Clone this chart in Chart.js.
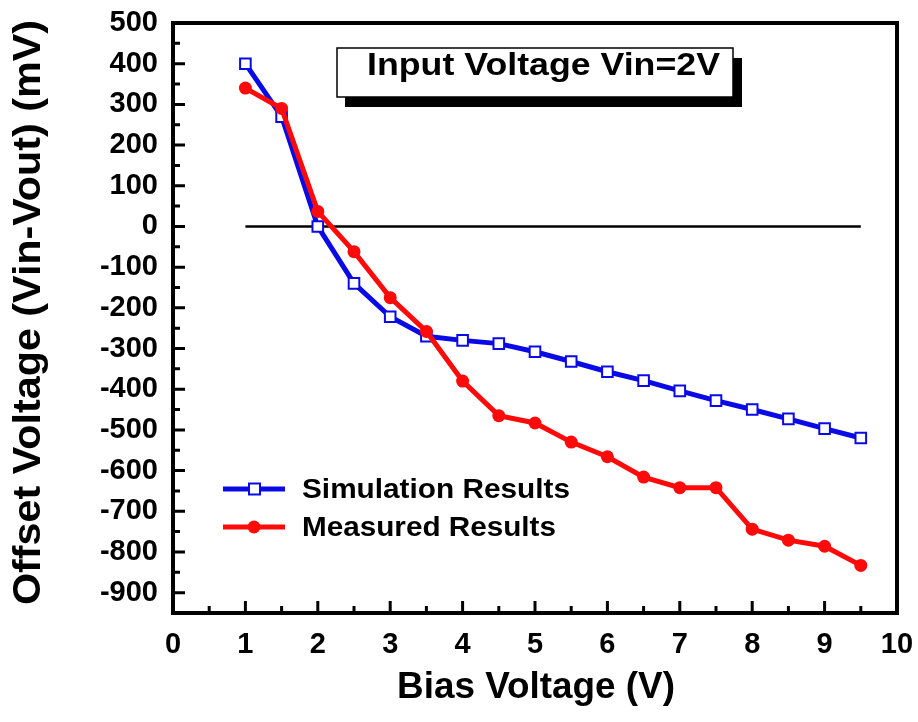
<!DOCTYPE html>
<html lang="en">
<head>
    <meta charset="UTF-8">
    <title>Offset Voltage vs Bias Voltage</title>
    <script src="https://cdn.jsdelivr.net/npm/chart.js"></script>
    <style>
        html, body { margin: 0; padding: 0; background: #fff; }
        #wrap { width: 918px; height: 722px; }
    </style>
</head>
<body>
    <div id="wrap"><canvas id="chart" width="918" height="722"></canvas></div>

    <script>
        // values
        const biasVoltage = [1, 1.5, 2, 2.5, 3, 3.5, 4, 4.5, 5, 5.5, 6, 6.5, 7, 7.5, 8, 8.5, 9, 9.5];
        const simulated = [400, 270, 0, -140, -222, -270, -280, -288, -308, -332, -357, -379, -404, -428, -450, -473, -497, -520];
        const measured = [340, 290, 37, -62, -175, -258, -380, -465, -483, -530, -566, -616, -642, -642, -744, -771, -786, -833];
        const zeroLineX = [1, 9.5];
        const xTicks = [0, 1, 2, 3, 4, 5, 6, 7, 8, 9, 10];
        const yTicks = [500, 400, 300, 200, 100, 0, -100, -200, -300, -400, -500, -600, -700, -800, -900];

        const FONT = '"Liberation Sans", Arial, sans-serif';
        const BLUE = '#0a0ae6';
        const RED = '#ff0a0a';

        const toPoints = (xs, ys) => xs.map((x, i) => ({ x: x, y: ys[i] }));

        // draws text stretched horizontally so it spans a given width
        function fitText(ctx, text, x, y, width) {
            const w = ctx.measureText(text).width;
            ctx.save();
            ctx.translate(x, y);
            ctx.scale(width / w, 1);
            ctx.fillText(text, 0, 0);
            ctx.restore();
        }

        // frame, inward ticks, titles, legend, label box
        const decorations = {
            id: 'decorations',
            afterDraw(chart) {
                const ctx = chart.ctx;
                const a = chart.chartArea;
                const xs = chart.scales.x;
                const ys = chart.scales.y;
                ctx.save();

                // minor/major ticks
                ctx.strokeStyle = '#000';
                ctx.lineWidth = 3;
                ctx.beginPath();
                for (let v = -900; v <= 450; v += 50) {
                    const py = ys.getPixelForValue(v);
                    const len = v % 100 === 0 ? 12 : 7;
                    ctx.moveTo(a.left, py);
                    ctx.lineTo(a.left + len, py);
                }
                for (let v = 0.5; v < 10; v += 0.5) {
                    const px = xs.getPixelForValue(v);
                    const len = Number.isInteger(v) ? 12 : 7;
                    ctx.moveTo(px, a.bottom);
                    ctx.lineTo(px, a.bottom - len);
                }
                ctx.stroke();

                // frame
                ctx.lineWidth = 4;
                ctx.strokeRect(a.left, a.top, a.right - a.left, a.bottom - a.top);

                // axis titles
                ctx.fillStyle = '#000';
                ctx.font = 'bold 36px ' + FONT;
                ctx.textAlign = 'left';
                ctx.textBaseline = 'middle';
                fitText(ctx, 'Bias Voltage (V)', 397, 688, 278);
                ctx.save();
                ctx.translate(30, 605);
                ctx.rotate(-Math.PI / 2);
                ctx.font = 'bold 38px ' + FONT;
                fitText(ctx, 'Offset Voltage (Vin-Vout) (mV)', 0, 0, 585);
                ctx.restore();

                // label box with shadow
                ctx.fillStyle = '#000';
                ctx.fillRect(345, 58, 397, 49);
                ctx.fillStyle = '#fff';
                ctx.fillRect(337, 48, 396, 49);
                ctx.lineWidth = 1.5;
                ctx.strokeRect(337, 48, 396, 49);
                ctx.fillStyle = '#000';
                ctx.font = 'bold 31px ' + FONT;
                ctx.textBaseline = 'alphabetic';
                fitText(ctx, 'Input Voltage Vin=2V', 367, 75, 353);

                // legend
                const items = [
                    { label: 'Simulation Results', color: BLUE, y: 489, w: 268, square: true },
                    { label: 'Measured Results', color: RED, y: 527, w: 254, square: false }
                ];
                ctx.font = 'bold 28px ' + FONT;
                ctx.textBaseline = 'middle';
                items.forEach(it => {
                    ctx.strokeStyle = it.color;
                    ctx.lineWidth = 5;
                    ctx.beginPath();
                    ctx.moveTo(223, it.y);
                    ctx.lineTo(285, it.y);
                    ctx.stroke();
                    if (it.square) {
                        ctx.fillStyle = '#fff';
                        ctx.fillRect(249, it.y - 5.5, 11, 11);
                        ctx.lineWidth = 2;
                        ctx.strokeRect(249, it.y - 5.5, 11, 11);
                    } else {
                        ctx.fillStyle = it.color;
                        ctx.beginPath();
                        ctx.arc(254, it.y, 6.5, 0, Math.PI * 2);
                        ctx.fill();
                    }
                    ctx.fillStyle = '#000';
                    fitText(ctx, it.label, 302, it.y + 1, it.w);
                });

                ctx.restore();
            }
        };

        new Chart(document.getElementById('chart'), {
            type: 'line',
            data: {
                datasets: [
                    {
                        label: 'Measured Results',
                        data: toPoints(biasVoltage, measured),
                        borderColor: RED,
                        backgroundColor: RED,
                        borderWidth: 5,
                        pointStyle: 'circle',
                        pointRadius: 6.5,
                        pointBorderWidth: 0,
                        tension: 0
                    },
                    {
                        label: 'Simulation Results',
                        data: toPoints(biasVoltage, simulated),
                        borderColor: BLUE,
                        backgroundColor: '#fff',
                        borderWidth: 5,
                        pointStyle: 'rect',
                        pointRadius: 7.5,
                        pointBorderWidth: 2,
                        tension: 0
                    },
                    {
                        label: 'zero',
                        data: toPoints(zeroLineX, [0, 0]),
                        borderColor: '#000',
                        borderWidth: 2.5,
                        pointRadius: 0
                    }
                ]
            },
            options: {
                responsive: false,
                animation: false,
                layout: { padding: { left: 0, top: 23, right: 21, bottom: 0 } },
                plugins: {
                    legend: { display: false },
                    tooltip: { enabled: false }
                },
                scales: {
                    x: {
                        type: 'linear',
                        min: 0,
                        max: 10,
                        afterBuildTicks: s => { s.ticks = xTicks.map(v => ({ value: v })); },
                        afterFit: s => { s.height = 109; s.paddingLeft = 0; s.paddingRight = 0; },
                        grid: { display: false, drawTicks: false },
                        border: { display: false },
                        ticks: {
                            color: '#000',
                            padding: 15,
                            maxRotation: 0,
                            autoSkip: false,
                            font: { family: FONT, size: 29, weight: 'bold' }
                        }
                    },
                    y: {
                        type: 'linear',
                        min: -950,
                        max: 500,
                        afterBuildTicks: s => { s.ticks = yTicks.map(v => ({ value: v })); },
                        afterFit: s => { s.width = 173; s.paddingTop = 0; s.paddingBottom = 0; },
                        grid: { display: false, drawTicks: false },
                        border: { display: false },
                        ticks: {
                            color: '#000',
                            padding: 15,
                            autoSkip: false,
                            font: { family: FONT, size: 29, weight: 'bold' }
                        }
                    }
                }
            },
            plugins: [decorations]
        });
    </script>
</body>
</html>
